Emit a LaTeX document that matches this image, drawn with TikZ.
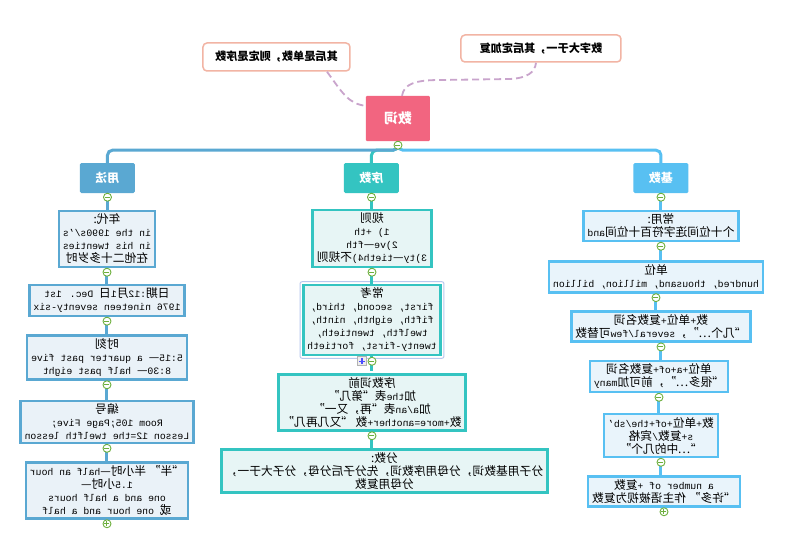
\documentclass[tikz,border=0pt]{standalone}
\usepackage{fontspec}
\usepackage{graphicx}
\setmainfont{Liberation Mono}
\newfontfamily\cjk[Scale=1.2]{Noto Sans CJK SC}
\newcommand\C[1]{{\cjk #1}}
\usetikzlibrary{calc}
\definecolor{cA}{HTML}{5AA8D2}
\definecolor{cB}{HTML}{34C4C1}
\definecolor{cC}{HTML}{58C0F2}
\definecolor{fA}{HTML}{EAF2F8}
\definecolor{fB}{HTML}{E7F5F5}
\definecolor{fC}{HTML}{E9F4FB}
\definecolor{rootc}{HTML}{F26580}
\definecolor{coc}{HTML}{F2B4A4}
\definecolor{dc}{HTML}{C9A4CC}
\definecolor{tg}{HTML}{6DAF3C}
\definecolor{selc}{HTML}{B8C8EE}
\tikzset{
  hdr/.style={fill=#1, minimum width=55pt, minimum height=30pt, rounded corners=1.5pt, text=white, font=\cjk\bfseries\fontsize{10}{12}\selectfont},
  bx/.style 2 args={draw=#1, fill=#2, line width=2.6pt, align=center, inner xsep=4pt, inner ysep=3pt, font=\fontsize{9.8}{13}\selectfont},
  callout/.style={draw=coc, line width=1.5pt, rounded corners=4pt, fill=white, inner xsep=9pt, minimum height=28pt, font=\cjk\bfseries\fontsize{9.3}{12}\selectfont},
  dsh/.style={draw=dc, dash pattern=on 7pt off 4pt, line width=1.8pt},
  tgm/.style={circle, draw=tg, fill=white, line width=0.9pt, minimum size=8pt, inner sep=0pt,
    path picture={\draw[tg,line width=1pt] ([xshift=-2.5pt]path picture bounding box.center) -- ([xshift=2.5pt]path picture bounding box.center);}},
  tgp/.style={circle, draw=tg, fill=white, line width=0.9pt, minimum size=8pt, inner sep=0pt,
    path picture={\draw[tg,line width=1pt] ([xshift=-2.5pt]path picture bounding box.center) -- ([xshift=2.5pt]path picture bounding box.center) ([yshift=-2.5pt]path picture bounding box.center) -- ([yshift=2.5pt]path picture bounding box.center);}},
  sqp/.style={rectangle, draw=gray!60, fill=gray!15, line width=0.6pt, minimum size=9pt, inner sep=0pt,
    path picture={\draw[blue!70,line width=1.2pt] ([xshift=-3pt]path picture bounding box.center) -- ([xshift=3pt]path picture bounding box.center) ([yshift=-3pt]path picture bounding box.center) -- ([yshift=3pt]path picture bounding box.center);}},
}
\begin{document}
\begin{tikzpicture}[x=1pt,y=-1pt]
\begin{scope}[xscale=-1, transform shape]
\fill[white] (0,0) rectangle (800,559);
\path[use as bounding box] (0,0) rectangle (800,559);

% root and callouts
\node[fill=rootc, minimum width=64pt, minimum height=45pt, rounded corners=1pt, text=white, font=\cjk\bfseries\fontsize{11.5}{14}\selectfont] (root) at (402,118.5) {数词};
\node[callout, minimum width=147pt] (lc) at (523.5,57) {其后是单数，则定是序数};
\node[callout, minimum width=160pt, minimum height=27pt] (rc) at (259,48.5) {数字大于一，其后定加复};

\draw[dsh] ($(lc.south)+(-50.5,0)$) .. controls (458,92) and (452,104) .. ($(root.north east)+(0,10)$);
\draw[dsh] ($(root.north)+(-4,0)$) .. controls (396,84) and (385,80) .. (360,80) -- (290,79) .. controls (272,78) and (265,72) .. ($(rc.south)+(5,0)$);

% headers
\node[hdr=cA] (h1) at (692.5,178) {用法};
\node[hdr=cB] (h2) at (428.5,178) {序数};
\node[hdr=cC] (h3) at (139,178) {基数};

\draw[cC, line width=3pt, rounded corners=5pt] (root.south) -- ++(0,9) -| (h3.north);
\draw[cB, line width=3pt, rounded corners=5pt] (root.south) -- ++(0,9) -| (h2.north);
\draw[cA, line width=3pt, rounded corners=5pt] (root.south) -- ++(0,9) -| (h1.north);
\node[tgm] at ($(root.south)+(0,4)$) {};

% column A
\node[bx={cA}{fA}] (a1) at (693,239) {\C{年代:}\\in the 1990s/'s\\in his twenties\\\C{在他二十多岁时}};
\node[bx={cA}{fA}] (a2) at (693,300.5) {\C{日期}:12\C{月}1\C{日} Dec. 1st\\1976 nineteen seventy-six};
\node[bx={cA}{fA}] (a3) at (693,357.5) {\C{时刻}\\5:15\C{—} a quarter past five\\8:30\C{—} half past eight};
\node[bx={cA}{fA}] (a4) at (693,422) {\C{编号}\\Room 105;Page Five;\\Lesson 12=the twelfth lesson};
\node[bx={cA}{fA}] (a5) at (693,490.5) {\C{“半” 半小时—}half an hour\\1.5\C{小时—}\\one and a half hours\\\C{或} one hour and a half};

% column B
\node[bx={cB}{fB}] (m1) at (428,238.5) {\C{规则}\\1) +th\\2)ve\C{—}fth\\3)ty\C{—}tieth4)\C{不规则}};
\node[bx={cB}{fB}] (m2) at (428,320) {\C{常考}\\first, second, third,\\fifth, eighth, ninth,\\twelfth, twentieth,\\twenty-first, fortieth};
\node[bx={cB}{fB}] (m3) at (428,402.5) {\C{序数词前}\\\C{加}the\C{表“第几”}\\\C{加}a/an\C{表“再，又一”}\\\C{数}+more=another+\C{数 “又几再几”}};
\node[bx={cB}{fB}] (m4) at (415.5,471) {\C{分数:}\\\C{分子用基数词，分母用序数词，先分子后分母，分子大于一，}\\\C{分母用复数}};

% column C
\node[bx={cC}{fC}] (r1) at (139,226) {\C{常用:}\\\C{个十位间连字符百十位间}and};
\node[bx={cC}{fC}] (r2) at (144,277) {\C{单位}\\hundred, thousand, million, billion};
\node[bx={cC}{fC}] (r3) at (139,326.5) {\C{数}+\C{单位}+\C{复数名词}\\\C{“几个…”，}several/few\C{可替数}};
\node[bx={cC}{fC}] (r4) at (141,376.5) {\C{单位}+a+of+\C{复数名词}\\\C{“很多…”，前可加}many};
\node[bx={cC}{fC}] (r5) at (139,435.5) {\C{数}+\C{单位}+of+the/sb'\\s+\C{复数}/\C{宾格}\\\C{“…中的几个”}};
\node[bx={cC}{fC}] (r6) at (136,491.5) {a number of +\C{复数}\\\C{“许多” 作主语被视为复数}};

\draw[selc, line width=1pt, rounded corners=2pt] ($(m2.north west)+(-2,-2)$) rectangle ($(m2.south east)+(2,2)$);

% connectors
\begin{scope}[line width=3pt]
\draw[cA] (h1.south) -- (h1.south |- a1.north);
\draw[cA] (a1.south) -- (a1.south |- a2.north);
\draw[cA] (a2.south) -- (a2.south |- a3.north);
\draw[cA] (a3.south) -- (a3.south |- a4.north);
\draw[cA] (a4.south) -- (a4.south |- a5.north);
\draw[cB] (h2.south) -- (h2.south |- m1.north);
\draw[cB] (m1.south) -- (m1.south |- m2.north);
\draw[cB] (m2.south) -- ($(m2.south |- m3.north)+(0,-2)$);
\draw[cB] (m3.south) -- (m3.south |- m4.north);
\draw[cC] (h3.south) -- (h3.south |- r1.north);
\draw[cC] (r1.south) -- (r1.south |- r2.north);
\draw[cC] (r2.south) -- (r2.south |- r3.north);
\draw[cC] (r3.south) -- (r3.south |- r4.north);
\draw[cC] (r4.south) -- (r4.south |- r5.north);
\draw[cC] (r5.south) -- (r5.south |- r6.north);
\end{scope}

% toggles
\foreach \n in {h1,a1,a2,a3,a4,h2,m1,m3,h3,r1,r2,r3,r4,r5}{
  \node[tgm] at ($(\n.south)+(0,4)$) {};
}
\node[tgm] at ($(m2.south)+(0,5)$) {};
\node[sqp] at ($(m2.south)+(10,5)$) {};
\node[tgp] at ($(a5.south)+(0,4)$) {};
\node[tgp] at ($(r6.south)+(0,4)$) {};
\end{scope}
\end{tikzpicture}
\end{document}
